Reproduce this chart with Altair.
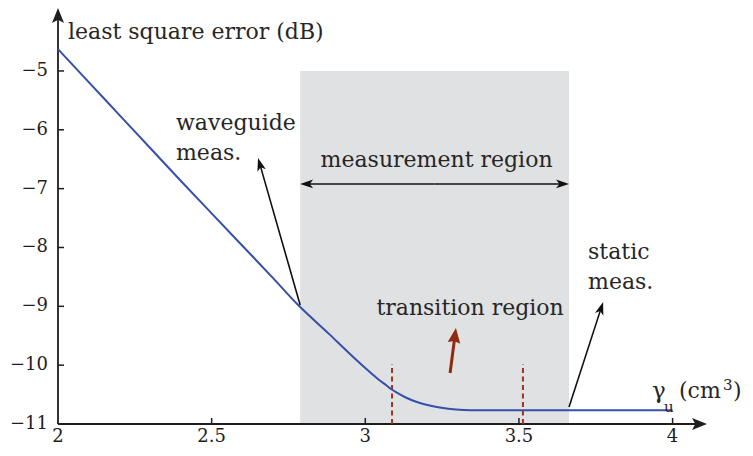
import math
import altair as alt
import pandas as pd

# ---- data ----
curve_x = [2.0, 2.1, 2.2, 2.3, 2.4, 2.5, 2.6, 2.7, 2.78, 2.88, 2.95, 3.0, 3.04, 3.07,
           3.085, 3.1, 3.13, 3.17, 3.22, 3.27, 3.32, 3.37, 3.5, 3.6, 3.7, 3.8, 3.9, 4.0]
curve_y = [-4.63, -5.19, -5.75, -6.31, -6.87, -7.42, -7.97, -8.52, -8.97, -9.46, -9.81,
           -10.05, -10.23, -10.35, -10.41, -10.46, -10.545, -10.63, -10.70, -10.74,
           -10.76, -10.765, -10.765, -10.765, -10.765, -10.765, -10.765, -10.765]

x_ticks = [2, 2.5, 3, 3.5, 4]
x_tick_labels = ["2", "2.5", "3", "3.5", "4"]
y_ticks = [-11, -10, -9, -8, -7, -6, -5]
y_tick_labels = ["−11", "−10", "−9", "−8", "−7", "−6", "−5"]
x_min, x_max = 2.0, 4.112
y_min, y_max = -11.0, -3.93

region_x = [2.788, 3.663]
region_y = [-11.0, -5.0]
transition_x = [3.087, 3.513]
transition_y = [-11.0, -9.98]

# black annotation arrows: tail -> tip
black_tail_x = [2.788, 3.663, 3.225, 3.225]
black_tail_y = [-8.977, -10.711, -6.92, -6.92]
black_tip_x = [2.651, 3.774, 3.663, 2.788]
black_tip_y = [-6.478, -8.926, -6.92, -6.92]
# red arrow
red_tail_x = [3.276]
red_tail_y = [-10.133]
red_tip_x = [3.295]
red_tip_y = [-9.368]

left_text = ["least square error (dB)", "waveguide", "meas.", "static", "meas."]
left_text_x = [2.0325, 2.384, 2.384, 3.725, 3.725]
left_text_y = [-4.337, -5.884, -6.394, -8.076, -8.586]
center_text = ["measurement region", "transition region"]
center_text_x = [3.232, 3.341]
center_text_y = [-6.513, -9.028]

unit_text = ["γ", "u", "(cm", "3", ")"]
unit_x = [3.933, 3.972, 4.021, 4.164, 4.197]
unit_y = [-10.558, -10.79, -10.558, -10.42, -10.558]
unit_size = [23, 15, 22, 15, 22]

# ---- layout ----
W, H = 649, 416
PX = W / (x_max - x_min)
PY = H / (y_max - y_min)
FONT = "DejaVu Serif"
TXT = "#262626"
AX = "#1e1e1e"

xs = alt.Scale(domain=[x_min, x_max], nice=False, zero=False)
ys = alt.Scale(domain=[y_min, y_max], nice=False, zero=False)


def arrows(tx, ty, hx, hy, inset):
    rows = []
    for a, b, c, d in zip(tx, ty, hx, hy):
        dx = (c - a) * PX
        dy = (d - b) * PY
        ln = math.hypot(dx, dy)
        ang = math.degrees(math.atan2(dx, dy)) % 360
        ex = c - (c - a) * inset / ln
        ey = d - (d - b) * inset / ln
        rows.append(dict(x=a, y=b, x2=ex, y2=ey, hx=c, hy=d, ang=ang))
    return pd.DataFrame(rows)


curve = pd.DataFrame({"x": curve_x, "y": curve_y})
region = pd.DataFrame({"x": [region_x[0]], "x2": [region_x[1]],
                       "y": [region_y[0]], "y2": [region_y[1]]})
trans = pd.DataFrame({"x": transition_x, "y": [transition_y[0]] * 2,
                      "y2": [transition_y[1]] * 2})
xt = pd.DataFrame({"x": x_ticks[1:], "y": [y_min] * 4, "y2": [y_min + 6 / PY] * 4})
yt = pd.DataFrame({"y": y_ticks[1:], "x": [x_min] * 6, "x2": [x_min + 6 / PX] * 6})
xl = pd.DataFrame({"x": x_ticks, "t": x_tick_labels, "y": [y_min - 4 / PY] * 5})
yl = pd.DataFrame({"y": y_ticks, "t": y_tick_labels, "x": [x_min - 10 / PX] * 7})
axes_lines = pd.DataFrame({"x": [x_min, x_min], "x2": [x_max - 8 / PX, x_min],
                           "y": [y_min, y_min], "y2": [y_min, y_max - 8 / PY]})
axes_heads = pd.DataFrame({"x": [x_max, x_min], "y": [y_min, y_max], "ang": [90, 0]})
blk = arrows(black_tail_x, black_tail_y, black_tip_x, black_tip_y, 7)
red = arrows(red_tail_x, red_tail_y, red_tip_x, red_tip_y, 9)
ltxt = pd.DataFrame({"t": left_text, "x": left_text_x, "y": left_text_y})
ctxt = pd.DataFrame({"t": center_text, "x": center_text_x, "y": center_text_y})
utxt = pd.DataFrame({"t": unit_text, "x": unit_x, "y": unit_y, "s": unit_size})


def X(f="x"):
    return alt.X(f"{f}:Q", scale=xs, axis=None)


def Y(f="y"):
    return alt.Y(f"{f}:Q", scale=ys, axis=None)


head_black = "M0,0L-0.34,1L0,0.74L0.34,1Z"
head_axis = "M0,0L-0.4,1L0,0.78L0.4,1Z"
head_red = "M0,0L-0.42,1L0,0.88L0.42,1Z"

bg = alt.Chart(region).mark_rect(color="#e0e1e3").encode(
    x=X(), x2="x2:Q", y=Y(), y2="y2:Q")

ax_lines = alt.Chart(axes_lines).mark_rule(color=AX, strokeWidth=1.8).encode(
    x=X(), x2="x2:Q", y=Y(), y2="y2:Q")
ax_heads = alt.Chart(axes_heads).mark_point(
    shape=head_axis, size=4 * 15 * 15, filled=True, color=AX, opacity=1,
    strokeWidth=0).encode(x=X(), y=Y(), angle=alt.Angle("ang:Q", scale=None))
xticks_l = alt.Chart(xt).mark_rule(color=AX, strokeWidth=1.5).encode(
    x=X(), y=Y(), y2="y2:Q")
yticks_l = alt.Chart(yt).mark_rule(color=AX, strokeWidth=1.5).encode(
    y=Y(), x=X(), x2="x2:Q")
xlab = alt.Chart(xl).mark_text(font=FONT, fontSize=18, color=AX, align="center",
                               baseline="top").encode(x=X(), y=Y(), text="t:N")
ylab = alt.Chart(yl).mark_text(font=FONT, fontSize=18, color=AX, align="right",
                               baseline="middle").encode(x=X(), y=Y(), text="t:N")

dashed = alt.Chart(trans).mark_rule(color="#a3321c", strokeWidth=2,
                                    strokeDash=[5, 3.5]).encode(
    x=X(), y=Y(), y2="y2:Q")

line = alt.Chart(curve).mark_line(color="#3550aa", strokeWidth=2,
                                  interpolate="monotone").encode(x=X(), y=Y())

blk_shaft = alt.Chart(blk).mark_rule(color="#111111", strokeWidth=1.6).encode(
    x=X(), y=Y(), x2="x2:Q", y2="y2:Q")
blk_head = alt.Chart(blk).mark_point(
    shape=head_black, size=4 * 13 * 13, filled=True, color="#111111", opacity=1,
    strokeWidth=0).encode(x=X("hx"), y=Y("hy"),
                          angle=alt.Angle("ang:Q", scale=None))
red_shaft = alt.Chart(red).mark_rule(color="#8e2a10", strokeWidth=3).encode(
    x=X(), y=Y(), x2="x2:Q", y2="y2:Q")
red_head = alt.Chart(red).mark_point(
    shape=head_red, size=4 * 15 * 15, filled=True, color="#8e2a10", opacity=1,
    strokeWidth=0).encode(x=X("hx"), y=Y("hy"),
                          angle=alt.Angle("ang:Q", scale=None))

lt = alt.Chart(ltxt).mark_text(font=FONT, fontSize=22, color=TXT, align="left",
                               baseline="middle").encode(x=X(), y=Y(), text="t:N")
ct = alt.Chart(ctxt).mark_text(font=FONT, fontSize=22, color=TXT, align="center",
                               baseline="middle").encode(x=X(), y=Y(), text="t:N")
ut = alt.Chart(utxt).mark_text(font=FONT, color=TXT, align="left",
                               baseline="alphabetic").encode(
    x=X(), y=Y(), text="t:N", size=alt.Size("s:Q", scale=None, legend=None))

chart = alt.layer(
    bg, ax_lines, xticks_l, yticks_l, dashed, line, xlab, ylab,
    blk_shaft, blk_head, red_shaft, red_head, ax_heads, lt, ct, ut
).properties(
    width=W, height=H,
    autosize=alt.AutoSizeParams(type="none"),
    padding={"left": 50, "top": 0, "right": 38, "bottom": 24},
).configure_view(stroke=None)

chart.save("out.html", embed_options={"renderer": "svg", "actions": False})
